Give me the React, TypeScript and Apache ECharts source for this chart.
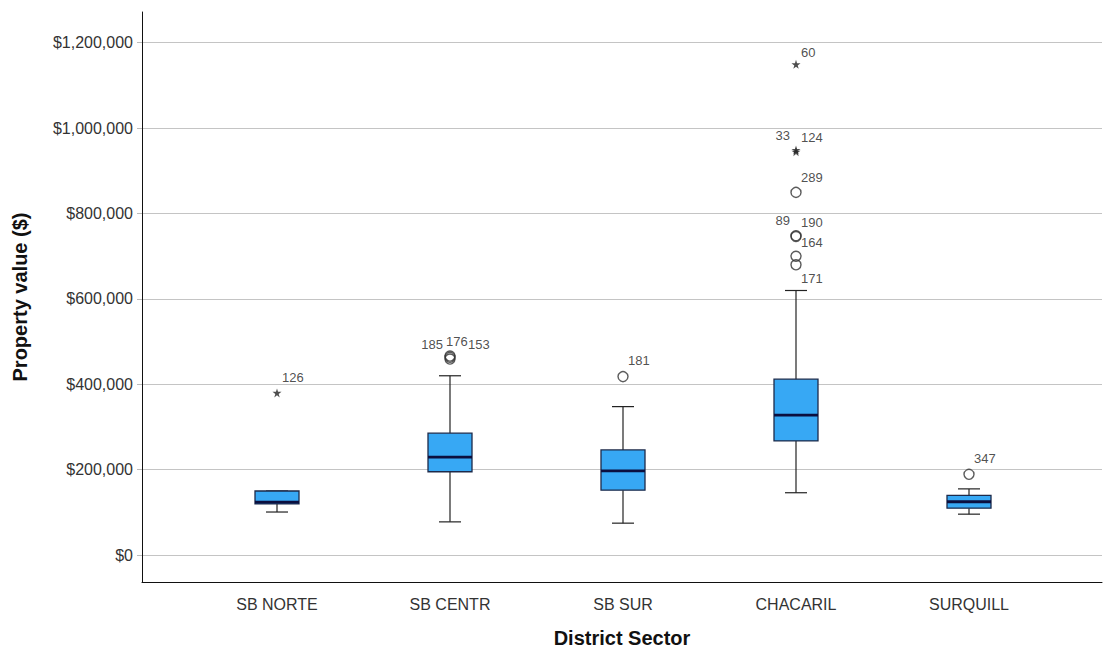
import React, { useEffect, useRef } from "react";
import * as echarts from "echarts";

const categories = ["SB NORTE", "SB CENTR", "SB SUR", "CHACARIL", "SURQUILL"];
const lowerWhisker = [105000, 82000, 79000, 150000, 100000];
const q1Values = [124000, 199000, 156000, 271000, 114000];
const medianValues = [128000, 233000, 201000, 331000, 129000];
const q3Values = [154000, 289000, 250000, 415000, 144000];
const upperWhisker = [154000, 423000, 351000, 622000, 159000];

// [category, value, case id]
const mildOutliers: [string, number, string][] = [
  ["SB CENTR", 462000, "185"],
  ["SB CENTR", 466000, "176"],
  ["SB CENTR", 469000, "153"],
  ["SB SUR", 421000, "181"],
  ["CHACARIL", 851000, "289"],
  ["CHACARIL", 750000, "89"],
  ["CHACARIL", 748000, "190"],
  ["CHACARIL", 702000, "164"],
  ["CHACARIL", 682000, "171"],
  ["SURQUILL", 193000, "347"],
];
const extremeOutliers: [string, number, string][] = [
  ["SB NORTE", 383000, "126"],
  ["CHACARIL", 1150000, "60"],
  ["CHACARIL", 950000, "33"],
  ["CHACARIL", 946000, "124"],
];

const yTicks = [0, 200000, 400000, 600000, 800000, 1000000, 1200000];

// label placement (layout only)
const labelOffsets: Record<string, [number, number, "left" | "right"]> = {
  "126": [5, -15, "left"],
  "185": [-7, -15, "right"],
  "176": [-4, -16, "left"],
  "153": [18, -12, "left"],
  "181": [5, -16, "left"],
  "289": [5, -15, "left"],
  "89": [-6, -15, "right"],
  "190": [5, -14, "left"],
  "164": [5, -14, "left"],
  "171": [5, 14, "left"],
  "347": [5, -16, "left"],
  "60": [5, -12, "left"],
  "33": [-6, -14, "right"],
  "124": [5, -14, "left"],
};

const FONT = "'Liberation Sans', Arial, sans-serif";
const STAR = "path://M50,0 L61,35 L98,35 L68,57 L79,91 L50,70 L21,91 L32,57 L2,35 L39,35 Z";

function pointData(list: [string, number, string][]) {
  return list.map(([cat, v, id]) => {
    const o = labelOffsets[id] || [5, -15, "left"];
    return {
      value: [categories.indexOf(cat), v],
      name: id,
      label: {
        show: id !== "",
        formatter: id,
        position: "inside",
        align: o[2],
        verticalAlign: "middle",
        offset: [o[0], o[1]],
        color: "#222",
        fontSize: 13,
        fontFamily: FONT,
      },
    };
  });
}

export default function App() {
  const ref = useRef<HTMLDivElement>(null);
  useEffect(() => {
    if (!ref.current) return;
    const chart = echarts.init(ref.current, null, { renderer: "svg" });
    const yMin = -63000;
    const yMax = 1272000;
    const option: any = {
      animation: false,
      backgroundColor: "#ffffff",
      grid: [
        { left: 142, right: 2, top: 12, bottom: 69 },
        { left: 190.5, right: 48.5, top: 12, bottom: 69 },
      ],
      xAxis: [
        {
          type: "value",
          gridIndex: 0,
          min: 0,
          max: 1,
          axisLine: { show: true, onZero: false, lineStyle: { color: "#111", width: 1 } },
          axisTick: { show: false },
          axisLabel: { show: false },
          splitLine: { show: false },
          name: "District Sector",
          nameLocation: "middle",
          nameGap: 46,
          nameTextStyle: { fontSize: 20, fontWeight: "bold", color: "#111", fontFamily: FONT },
        },
        {
          type: "category",
          gridIndex: 1,
          data: categories,
          axisLine: { show: false, onZero: false },
          axisTick: { show: false },
          axisLabel: { margin: 12, fontSize: 16, color: "#333", fontFamily: FONT },
          splitLine: { show: false },
        },
      ],
      yAxis: [
        {
          type: "value",
          gridIndex: 0,
          min: yMin,
          max: yMax,
          axisLine: { show: true, onZero: false, lineStyle: { color: "#111", width: 1 } },
          axisTick: {
            show: true,
            length: 5,
            customValues: yTicks,
            lineStyle: { color: "#bbb" },
          },
          axisLabel: {
            customValues: yTicks,
            margin: 9,
            fontSize: 16,
            color: "#333",
            fontFamily: FONT,
            formatter: (v: number) => "$" + Math.round(v).toLocaleString("en-US"),
          },
          splitLine: { show: true, lineStyle: { color: "#c4c4c4", width: 1 } },
          name: "Property value ($)",
          nameLocation: "middle",
          nameGap: 112,
          nameTextStyle: { fontSize: 20, fontWeight: "bold", color: "#111", fontFamily: FONT },
        },
        {
          type: "value",
          gridIndex: 1,
          min: yMin,
          max: yMax,
          show: false,
          splitLine: { show: false },
        },
      ],
      series: [
        {
          type: "custom",
          xAxisIndex: 1,
          yAxisIndex: 1,
          encode: { x: 0, y: [1, 2, 3, 4, 5] },
          data: categories.map((c, i) => [
            i,
            lowerWhisker[i],
            q1Values[i],
            medianValues[i],
            q3Values[i],
            upperWhisker[i],
          ]),
          renderItem: (params: any, api: any) => {
            const i = api.value(0);
            const lo = api.coord([i, api.value(1)]);
            const q1 = api.coord([i, api.value(2)]);
            const md = api.coord([i, api.value(3)]);
            const q3 = api.coord([i, api.value(4)]);
            const hi = api.coord([i, api.value(5)]);
            const x = lo[0];
            const bw = 44;
            const cw = 22;
            const ws = { stroke: "#222", lineWidth: 1.2 };
            return {
              type: "group",
              children: [
                { type: "line", shape: { x1: x, y1: hi[1], x2: x, y2: q3[1] }, style: ws },
                { type: "line", shape: { x1: x, y1: q1[1], x2: x, y2: lo[1] }, style: ws },
                { type: "line", shape: { x1: x - cw / 2, y1: hi[1], x2: x + cw / 2, y2: hi[1] }, style: ws },
                { type: "line", shape: { x1: x - cw / 2, y1: lo[1], x2: x + cw / 2, y2: lo[1] }, style: ws },
                {
                  type: "rect",
                  shape: { x: x - bw / 2, y: q3[1], width: bw, height: q1[1] - q3[1] },
                  style: { fill: "#37a8f4", stroke: "#1d2a4a", lineWidth: 1.3 },
                },
                {
                  type: "line",
                  shape: { x1: x - bw / 2, y1: md[1], x2: x + bw / 2, y2: md[1] },
                  style: { stroke: "#0b0f3f", lineWidth: 2.8 },
                },
              ],
            };
          },
          z: 2,
        },
        {
          type: "scatter",
          xAxisIndex: 1,
          yAxisIndex: 1,
          symbol: "circle",
          symbolSize: 10,
          itemStyle: { color: "rgba(255,255,255,0)", borderColor: "#333", borderWidth: 1.4 },
          data: pointData(mildOutliers),
          z: 3,
        },
        {
          type: "scatter",
          xAxisIndex: 1,
          yAxisIndex: 1,
          symbol: STAR,
          symbolSize: 9,
          itemStyle: { color: "#222" },
          data: pointData(extremeOutliers),
          z: 3,
        },
      ],
    };
    chart.setOption(option);
    return () => chart.dispose();
  }, []);
  return (
    <div
      ref={ref}
      style={{ position: "absolute", left: 0, top: 0, width: 1104, height: 653, background: "#fff" }}
    />
  );
}
